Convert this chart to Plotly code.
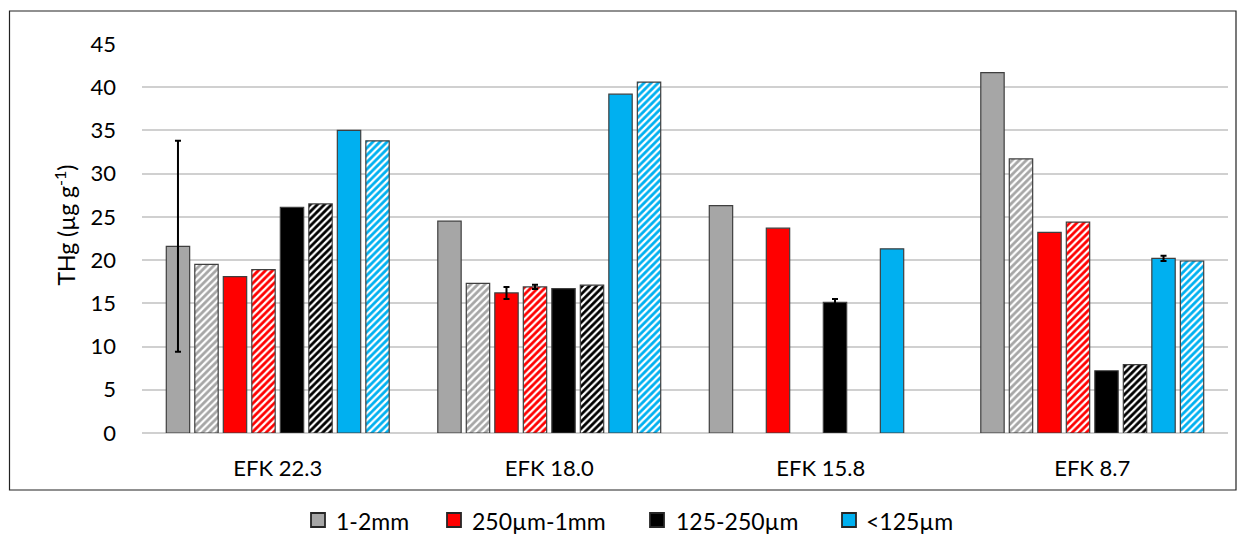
import plotly.graph_objects as go

# Sites along East Fork Poplar Creek
sites = ["EFK 22.3", "EFK 18.0", "EFK 15.8", "EFK 8.7"]

# Size fractions (legend labels) and their fill colours
fractions = ["1-2mm", "250µm-1mm", "125-250µm", "<125µm"]
colors = ["#A6A6A6", "#FF0000", "#000000", "#00B0F0"]

# THg (µg/g), solid bars per fraction, one value per site
solid_12mm = [21.6, 24.5, 26.3, 41.7]
solid_250_1 = [18.1, 16.2, 23.7, 23.2]
solid_125_250 = [26.1, 16.7, 15.1, 7.2]
solid_lt125 = [35.0, 39.2, 21.3, 20.2]

# THg (µg/g), hatched bars per fraction (no hatched data at EFK 15.8)
hatch_12mm = [19.5, 17.3, None, 31.7]
hatch_250_1 = [18.9, 16.9, None, 24.4]
hatch_125_250 = [26.5, 17.1, None, 7.9]
hatch_lt125 = [33.8, 40.6, None, 19.9]

# Error bars (± µg/g); None where no error bar is drawn
err_solid_12mm = [12.2, None, None, None]
err_solid_250_1 = [None, 0.7, None, None]
err_solid_125_250 = [None, None, 0.4, None]
err_solid_lt125 = [None, None, None, 0.3]
err_hatch_250_1 = [None, 0.25, None, None]

solid = [solid_12mm, solid_250_1, solid_125_250, solid_lt125]
hatched = [hatch_12mm, hatch_250_1, hatch_125_250, hatch_lt125]
err_solid = [err_solid_12mm, err_solid_250_1, err_solid_125_250, err_solid_lt125]
err_hatch = [None, err_hatch_250_1, None, None]

FONT = "Lato"
OUTLINE = "#3F3F3F"

# Plot-area geometry in pixels, used to place frame / legend in paper units
W, H = 1246, 535
L, R, T, B = 142, 18, 44, 102
PW, PH = W - L - R, H - T - B


def px_x(px):
    return (px - L) / PW


def px_y(py):
    return (H - B - py) / PH


def err_spec(arr):
    if arr is None:
        return None
    # non-numeric entries make plotly.js skip that point's error bar
    vals = ["NaN" if v is None else v for v in arr]
    return dict(type="data", array=vals, visible=True, color="black",
                thickness=2, width=3)


fig = go.Figure()

for i, name in enumerate(fractions):
    fig.add_trace(go.Bar(
        x=sites, y=solid[i], name=name,
        marker=dict(color=colors[i], line=dict(color=OUTLINE, width=1.2)),
        error_y=err_spec(err_solid[i]),
    ))
    fig.add_trace(go.Bar(
        x=sites, y=hatched[i], name=name + " (hatched)",
        marker=dict(
            color=colors[i],
            line=dict(color=OUTLINE, width=1.2),
            pattern=dict(shape="/", fillmode="replace", bgcolor=colors[i],
                         fgcolor="white", size=5, solidity=0.45),
        ),
        error_y=err_spec(err_hatch[i]),
    ))

# Outer frame around the whole chart
fig.add_shape(type="rect", xref="paper", yref="paper",
              x0=px_x(9.5), x1=px_x(1236), y0=px_y(490), y1=px_y(11),
              line=dict(color="#222222", width=1.2), fillcolor="rgba(0,0,0,0)")

# Rotated y-axis title
fig.add_annotation(xref="paper", yref="paper", x=px_x(47), y=px_y(225),
                   text="THg (µg g<sup>-1</sup>)", textangle=-90,
                   showarrow=False, font=dict(family=FONT, size=23, color="black"))

# Legend row below the frame: swatch + label per size fraction
legend_swatch_x = [311, 447, 650, 842]
legend_text_x = [334, 470, 674, 864]
legend_y = 520
for i, name in enumerate(fractions):
    x0 = legend_swatch_x[i]
    fig.add_shape(type="rect", xref="paper", yref="paper",
                  x0=px_x(x0), x1=px_x(x0 + 14),
                  y0=px_y(legend_y + 7), y1=px_y(legend_y - 7),
                  line=dict(color="#262626", width=1.8), fillcolor=colors[i])
    fig.add_annotation(xref="paper", yref="paper",
                       x=px_x(legend_text_x[i]), y=px_y(legend_y + 1),
                       xanchor="left", yanchor="middle", text=name,
                       showarrow=False,
                       font=dict(family=FONT, size=23, color="black"))

fig.update_layout(
    width=W, height=H,
    margin=dict(l=L, r=R, t=T, b=B),
    paper_bgcolor="white", plot_bgcolor="white",
    barmode="group", bargap=0.16, bargroupgap=0.18,
    font=dict(family=FONT, color="black"),
    showlegend=False,
    xaxis=dict(showline=False, ticks="", showgrid=False,
               tickfont=dict(family=FONT, size=22, color="black"),
               ticklabelstandoff=20),
    yaxis=dict(range=[0, 45], dtick=5, showgrid=True, gridcolor="#D0D0D0",
               gridwidth=1.5, zeroline=True, zerolinecolor="#D0D0D0",
               zerolinewidth=1.5, showline=False, ticks="",
               tickfont=dict(family=FONT, size=22, color="black"),
               ticklabelstandoff=25),
)

fig.write_html("out.html")
